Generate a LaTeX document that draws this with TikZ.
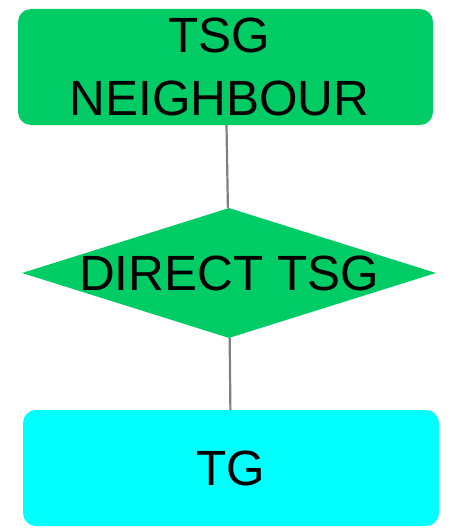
\documentclass[tikz,border=0pt]{standalone}
\usepackage{fontspec}
\setmainfont{Liberation Sans}
\usepackage{tikz}
\usetikzlibrary{shapes.geometric}
\usepackage{xcolor}
\definecolor{tsggreen}{RGB}{0,204,102}
\definecolor{tgcyan}{RGB}{0,255,255}

\begin{document}
\begin{tikzpicture}[x=1pt, y=-1pt]
    \tikzstyle{edge}=[draw,line width = 2.2pt,-,black!50]
    \tikzstyle{bigtext}=[font=\fontsize{49.5}{63}\selectfont]
    \tikzstyle{tsgbox}=[bigtext,fill=tsggreen,rounded corners=13pt,minimum width=415pt,minimum height=116pt,align=center,inner sep=0pt]
    \tikzstyle{tgbox}=[bigtext,fill=tgcyan,rounded corners=13pt,minimum width=416pt,minimum height=116pt,inner sep=0pt]
    \tikzstyle{relation}=[bigtext,diamond,fill=tsggreen,aspect=3.18,minimum width=414pt,minimum height=130pt,inner xsep=-20pt,inner ysep=0pt]
    \useasboundingbox (0,0) rectangle (464,532);
    \node[tsgbox] (neighbour) at (225.5, 67) {TSG\hspace*{12pt}\\NEIGHBOUR\hspace*{12pt}};
    \node[relation] (direct) at (229, 273) {DIRECT TSG};
    \node[tgbox] (tg) at (231, 468) {TG};
    \draw[edge] (neighbour) -- (direct);
    \draw[edge] (direct) -- (tg);
\end{tikzpicture}
\end{document}
